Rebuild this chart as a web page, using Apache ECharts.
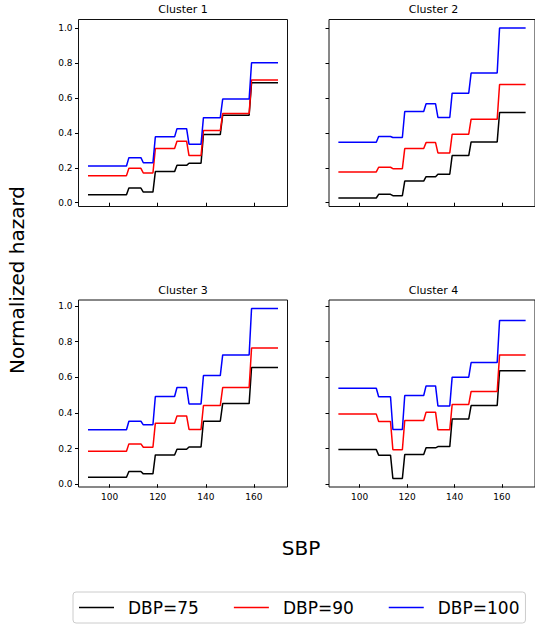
<!DOCTYPE html>
<html>
<head>
<meta charset="utf-8">
<script src="https://cdn.jsdelivr.net/npm/echarts@6/dist/echarts.min.js"></script>
<style>
html,body{margin:0;padding:0;background:#fff;}
#chart{width:535px;height:624px;}
</style>
</head>
<body>
<div id="chart"></div>
<script>
// SBP segment boundaries (piecewise-constant hazard levels)
const sbpStart = [91, 108, 114, 119, 128, 133, 139, 147, 159];
const sbpEnd   = [107, 113, 118, 127, 132, 138, 146, 158, 170];

const clusterNames = ['Cluster 1', 'Cluster 2', 'Cluster 3', 'Cluster 4'];
const seriesNames = ['DBP=75', 'DBP=90', 'DBP=100'];

// Cluster 1
const c1_dbp75  = [0.046, 0.084, 0.061, 0.178, 0.214, 0.226, 0.390, 0.501, 0.686];
const c1_dbp90  = [0.155, 0.197, 0.170, 0.310, 0.352, 0.270, 0.413, 0.510, 0.703];
const c1_dbp100 = [0.210, 0.258, 0.229, 0.377, 0.424, 0.335, 0.487, 0.593, 0.801];
// Cluster 2
const c2_dbp75  = [0.027, 0.048, 0.040, 0.124, 0.149, 0.163, 0.270, 0.348, 0.516];
const c2_dbp90  = [0.176, 0.203, 0.195, 0.310, 0.344, 0.285, 0.392, 0.478, 0.677];
const c2_dbp100 = [0.346, 0.379, 0.373, 0.522, 0.566, 0.488, 0.627, 0.742, 1.000];
// Cluster 3
const c3_dbp75  = [0.039, 0.071, 0.058, 0.164, 0.196, 0.209, 0.353, 0.452, 0.654];
const c3_dbp90  = [0.185, 0.226, 0.207, 0.342, 0.383, 0.307, 0.441, 0.542, 0.763];
const c3_dbp100 = [0.305, 0.353, 0.333, 0.492, 0.542, 0.450, 0.609, 0.725, 0.985];
// Cluster 4
const c4_dbp75  = [0.194, 0.163, 0.032, 0.166, 0.204, 0.211, 0.366, 0.441, 0.636];
const c4_dbp90  = [0.393, 0.351, 0.193, 0.357, 0.404, 0.305, 0.447, 0.520, 0.725];
const c4_dbp100 = [0.538, 0.490, 0.307, 0.497, 0.551, 0.439, 0.600, 0.682, 0.918];

const xTicks = [100, 120, 140, 160];
const yTicks = [0.0, 0.2, 0.4, 0.6, 0.8, 1.0];

const clusterData = [
  [c1_dbp75, c1_dbp90, c1_dbp100],
  [c2_dbp75, c2_dbp90, c2_dbp100],
  [c3_dbp75, c3_dbp90, c3_dbp100],
  [c4_dbp75, c4_dbp90, c4_dbp100]
];
const colors = ['#000000', '#ff0000', '#0000ff'];

function toPoints(vals) {
  const pts = [];
  for (let i = 0; i < vals.length; i++) {
    pts.push([sbpStart[i], vals[i]]);
    pts.push([sbpEnd[i], vals[i]]);
  }
  return pts;
}

const FONT = 'DejaVu Sans';
const gridPos = [
  {left: 78.5, top: 19.5, width: 209, height: 187},
  {left: 329,  top: 19.5, width: 209, height: 187},
  {left: 78.5, top: 300,  width: 209, height: 187},
  {left: 329,  top: 300,  width: 209, height: 187}
];
const yRanges = [
  [-0.0217, 1.0487], [-0.0217, 1.0487],
  [-0.0157, 1.0327], [-0.0157, 1.0327]
];

const grids = [], xAxes = [], yAxes = [], series = [], graphics = [];
for (let k = 0; k < 4; k++) {
  const g = gridPos[k];
  grids.push(Object.assign({show: true, borderColor: '#111', borderWidth: 1, backgroundColor: 'transparent', containLabel: false}, g));
  xAxes.push({
    type: 'value', gridIndex: k, min: 87.05, max: 173.95,
    axisLine: {show: false},
    splitLine: {show: false},
    axisTick: {show: true, inside: false, length: 3.5, lineStyle: {color: '#000', width: 1}, customValues: xTicks},
    axisLabel: {show: k >= 2, customValues: xTicks, margin: 5, fontFamily: FONT, fontSize: 9, color: '#000'}
  });
  yAxes.push({
    type: 'value', gridIndex: k, min: yRanges[k][0], max: yRanges[k][1],
    axisLine: {show: false},
    splitLine: {show: false},
    axisTick: {show: true, inside: false, length: 3.5, lineStyle: {color: '#000', width: 1}, customValues: yTicks},
    axisLabel: {show: k % 2 === 0, customValues: yTicks, margin: 6, fontFamily: FONT, fontSize: 9, color: '#000',
      formatter: v => v.toFixed(1)}
  });
  for (let s = 0; s < 3; s++) {
    series.push({
      name: seriesNames[s], type: 'line', xAxisIndex: k, yAxisIndex: k,
      data: toPoints(clusterData[k][s]),
      symbol: 'none', showSymbol: false, silent: true, animation: false,
      lineStyle: {color: colors[s], width: 1.5},
      itemStyle: {color: colors[s]}
    });
  }
  graphics.push({
    type: 'text',
    x: g.left + g.width / 2, y: g.top - 10,
    style: {text: clusterNames[k], textAlign: 'center', textVerticalAlign: 'middle', font: '11px "DejaVu Sans"', fill: '#000'}
  });
}

graphics.push({
  type: 'text', x: 17, y: 280, rotation: Math.PI / 2,
  style: {text: 'Normalized hazard', textAlign: 'center', textVerticalAlign: 'middle', font: '20px "DejaVu Sans"', fill: '#000'}
});
graphics.push({
  type: 'text', x: 301, y: 548,
  style: {text: 'SBP', textAlign: 'center', textVerticalAlign: 'middle', font: '20px "DejaVu Sans"', fill: '#000'}
});

const chart = echarts.init(document.getElementById('chart'), null, {renderer: 'svg'});
chart.setOption({
  animation: false,
  backgroundColor: '#fff',
  grid: grids,
  xAxis: xAxes,
  yAxis: yAxes,
  series: series,
  legend: {
    data: seriesNames,
    left: 73, top: 592,
    padding: [7, 6, 7, 6],
    icon: 'rect',
    itemWidth: 35, itemHeight: 1.5, itemGap: 35,
    borderColor: '#cccccc', borderWidth: 1, borderRadius: 3,
    textStyle: {fontFamily: FONT, fontSize: 17, color: '#000', padding: [0, 0, 0, 9], lineHeight: 17}
  },
  graphic: graphics
});
</script>
</body>
</html>
